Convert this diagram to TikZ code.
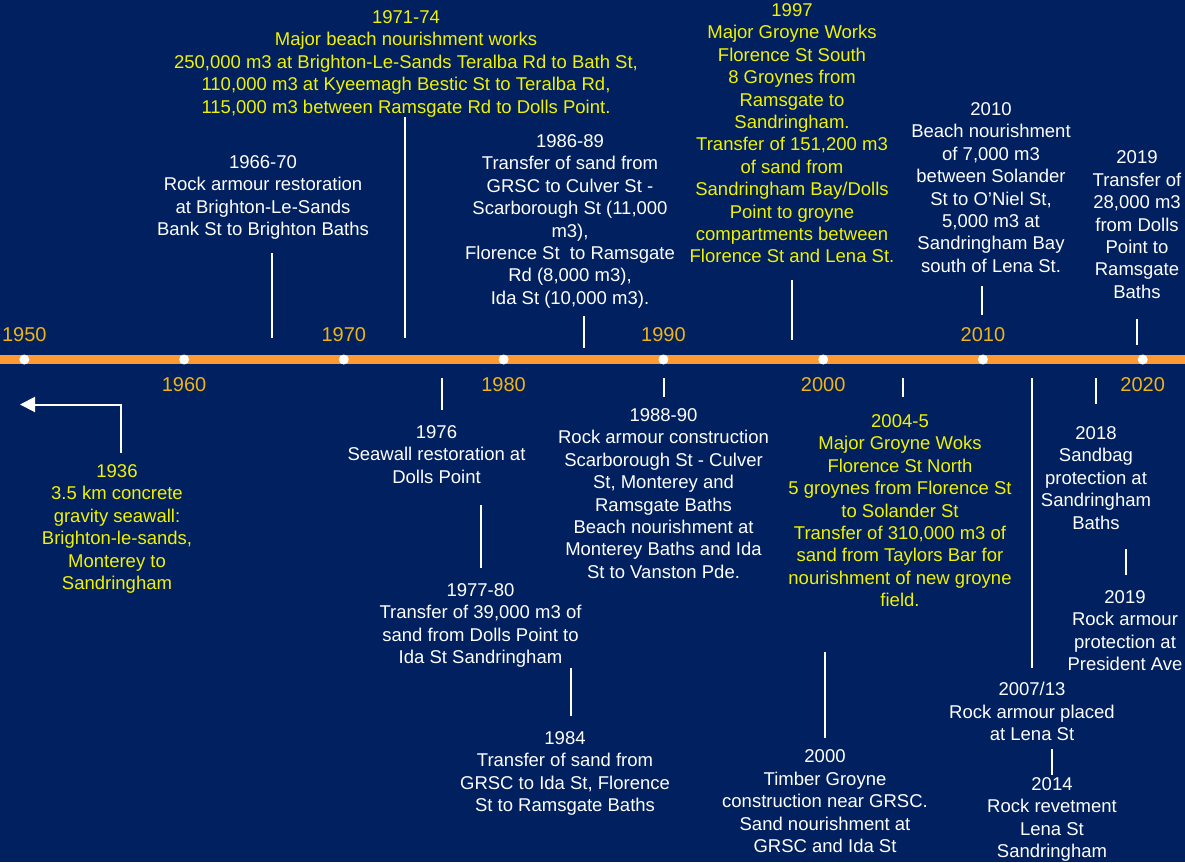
\documentclass[tikz,border=0pt]{standalone}
\usepackage{fontspec}
\setmainfont{Liberation Sans}
\usepackage{xcolor}
\usetikzlibrary{arrows.meta}
\definecolor{navyBg}{HTML}{002060}
\definecolor{axisOrange}{HTML}{FF9933}
\definecolor{yearGold}{HTML}{F0B414}
\definecolor{noteYellow}{HTML}{F2F200}

\begin{document}
\begin{tikzpicture}[
    x=1pt, y=-1pt,
    >={Triangle[length=15pt,width=15pt]},
    evt/.style={anchor=north, align=center, inner sep=0pt, outer sep=0pt,
      font=\fontsize{18.5}{22.4}\selectfont},
    wevt/.style={evt, text=white},
    yevt/.style={evt, text=noteYellow},
    yrlab/.style={inner sep=0pt, text=yearGold, font=\fontsize{20}{24}\selectfont},
    ydot/.style={circle, fill=white, inner sep=0pt, minimum size=10pt},
    vtick/.style={draw=white, line width=2pt},
    timeline/.style={draw=axisOrange, line width=9pt},
  ]

% ===== background =====
\useasboundingbox (0,0) rectangle (1185,862);
\fill[navyBg] (0,0) rectangle (1185,862);

% ===== timeline axis =====
\coordinate (axL) at (0,359.5);
\coordinate (axR) at (1185,359.5);
\draw[timeline] (axL) -- (axR);

\node[ydot] (d1950) at (24.3,359.5) {};
\node[ydot] (d1960) at (184.1,359.5) {};
\node[ydot] (d1970) at (343.8,359.5) {};
\node[ydot] (d1980) at (503.6,359.5) {};
\node[ydot] (d1990) at (663.4,359.5) {};
\node[ydot] (d2000) at (823.2,359.5) {};
\node[ydot] (d2010) at (982.9,359.5) {};
\node[ydot] (d2020) at (1142.7,359.5) {};

\node[yrlab] (y1950) at (24.3,335) {1950};
\node[yrlab] (y1960) at (184.1,385) {1960};
\node[yrlab] (y1970) at (343.8,335) {1970};
\node[yrlab] (y1980) at (503.6,385) {1980};
\node[yrlab] (y1990) at (663.4,335) {1990};
\node[yrlab] (y2000) at (823.2,385) {2000};
\node[yrlab] (y2010) at (982.9,335) {2010};
\node[yrlab] (y2020) at (1142.7,385) {2020};

% ===== events above the line =====
\node[yevt] (e7174) at (406,10.5) {1971-74\\Major beach nourishment works\\250,000 m3 at Brighton-Le-Sands Teralba Rd to Bath St,\\110,000 m3 at Kyeemagh Bestic St to Teralba Rd,\\115,000 m3 between Ramsgate Rd to Dolls Point.};
\node[wevt] (e6670) at (263,155.5) {1966-70\\Rock armour restoration\\at Brighton-Le-Sands\\Bank St to Brighton Baths};
\node[wevt] (e8689) at (570,134.5) {1986-89\\Transfer of sand from\\GRSC to Culver St -\\Scarborough St (11,000\\m3),\\Florence St \ to Ramsgate\\Rd (8,000 m3),\\Ida St (10,000 m3).};
\node[yevt] (e1997) at (792,3.5) {1997\\Major Groyne Works\\Florence St South\\8 Groynes from\\Ramsgate to\\Sandringham.\\Transfer of 151,200 m3\\of sand from\\Sandringham Bay/Dolls\\Point to groyne\\compartments between\\Florence St and Lena St.};
\node[wevt] (e2010) at (991,102.5) {2010\\Beach nourishment\\of 7,000 m3\\between Solander\\St to O’Niel St,\\5,000 m3 at\\Sandringham Bay\\south of Lena St.};
\node[wevt] (e2019a) at (1137,151) {2019\\Transfer of\\28,000 m3\\from Dolls\\Point to\\Ramsgate\\Baths};

% ===== events below the line =====
\node[yevt] (e1936) at (117,464.5) {1936\\3.5 km concrete\\gravity seawall:\\Brighton-le-sands,\\Monterey to\\Sandringham};
\node[wevt] (e1976) at (436.5,425.5) {1976\\Seawall restoration at\\Dolls Point};
\node[wevt] (e7780) at (480.5,583.5) {1977-80\\Transfer of 39,000 m3 of\\sand from Dolls Point to\\Ida St Sandringham};
\node[wevt] (e1984) at (565,731.5) {1984\\Transfer of sand from\\GRSC to Ida St, Florence\\St to Ramsgate Baths};
\node[wevt] (e8890) at (663.5,408.5) {1988-90\\Rock armour construction\\Scarborough St - Culver\\St, Monterey and\\Ramsgate Baths\\Beach nourishment at\\Monterey Baths and Ida\\St to Vanston Pde.};
\node[yevt] (e0405) at (900,414.5) {2004-5\\Major Groyne Woks\\Florence St North\\5 groynes from Florence St\\to Solander St\\Transfer of 310,000 m3 of\\sand from Taylors Bar for\\nourishment of new groyne\\field.};
\node[wevt] (e2000) at (825,750) {2000\\Timber Groyne\\construction near GRSC.\\Sand nourishment at\\GRSC and Ida St};
\node[wevt] (e2018) at (1096,426.5) {2018\\Sandbag\\protection at\\Sandringham\\Baths};
\node[wevt] (e2019b) at (1125,590.5) {2019\\Rock armour\\protection at\\President Ave};
\node[wevt] (e0713) at (1032,682.5) {2007/13\\Rock armour placed\\at Lena St};
\node[wevt] (e2014) at (1052,777.5) {2014\\Rock revetment\\Lena St\\Sandringham};

% ===== tick ends =====
\coordinate (k6670a) at (272,253);    \coordinate (k6670b) at (272,338);
\coordinate (k7174a) at (405,117);    \coordinate (k7174b) at (405,338);
\coordinate (k8689a) at (584,316);    \coordinate (k8689b) at (584,348);
\coordinate (k1997a) at (792,280);    \coordinate (k1997b) at (792,340);
\coordinate (k2010a) at (982,286);    \coordinate (k2010b) at (982,315);
\coordinate (k2019a) at (1137,319);   \coordinate (k2019b) at (1137,345);
\coordinate (k1976a) at (441.5,378);  \coordinate (k1976b) at (441.5,410);
\coordinate (k8890a) at (663.5,378);  \coordinate (k8890b) at (663.5,397);
\coordinate (k0405a) at (902.5,378);  \coordinate (k0405b) at (902.5,397);
\coordinate (k0713a) at (1032,378);   \coordinate (k0713b) at (1032,668);
\coordinate (k2018a) at (1096,378);   \coordinate (k2018b) at (1096,404);
\coordinate (k7780a) at (481,505);    \coordinate (k7780b) at (481,568);
\coordinate (k1984a) at (571,668);    \coordinate (k1984b) at (571,716);
\coordinate (k2000a) at (825,652);    \coordinate (k2000b) at (825,738);
\coordinate (k2019c) at (1125.5,549); \coordinate (k2019d) at (1125.5,575);
\coordinate (k2014a) at (1052,749);   \coordinate (k2014b) at (1052,775);

% Ticks
\draw[vtick] (k6670a) -- (k6670b);
\draw[vtick] (k7174a) -- (k7174b);
\draw[vtick] (k8689a) -- (k8689b);
\draw[vtick] (k1997a) -- (k1997b);
\draw[vtick] (k2010a) -- (k2010b);
\draw[vtick] (k2019a) -- (k2019b);
\draw[vtick] (k1976a) -- (k1976b);
\draw[vtick] (k8890a) -- (k8890b);
\draw[vtick] (k0405a) -- (k0405b);
\draw[vtick] (k0713a) -- (k0713b);
\draw[vtick] (k2018a) -- (k2018b);
\draw[vtick] (k7780a) -- (k7780b);
\draw[vtick] (k1984a) -- (k1984b);
\draw[vtick] (k2000a) -- (k2000b);
\draw[vtick] (k2019c) -- (k2019d);
\draw[vtick] (k2014a) -- (k2014b);

% 1936 points back before 1950
\coordinate (arrFoot) at (120.5,453);
\coordinate (arrTip) at (20,404.5);
\draw[vtick, ->] (arrFoot) |- (arrTip);

\end{tikzpicture}
\end{document}
